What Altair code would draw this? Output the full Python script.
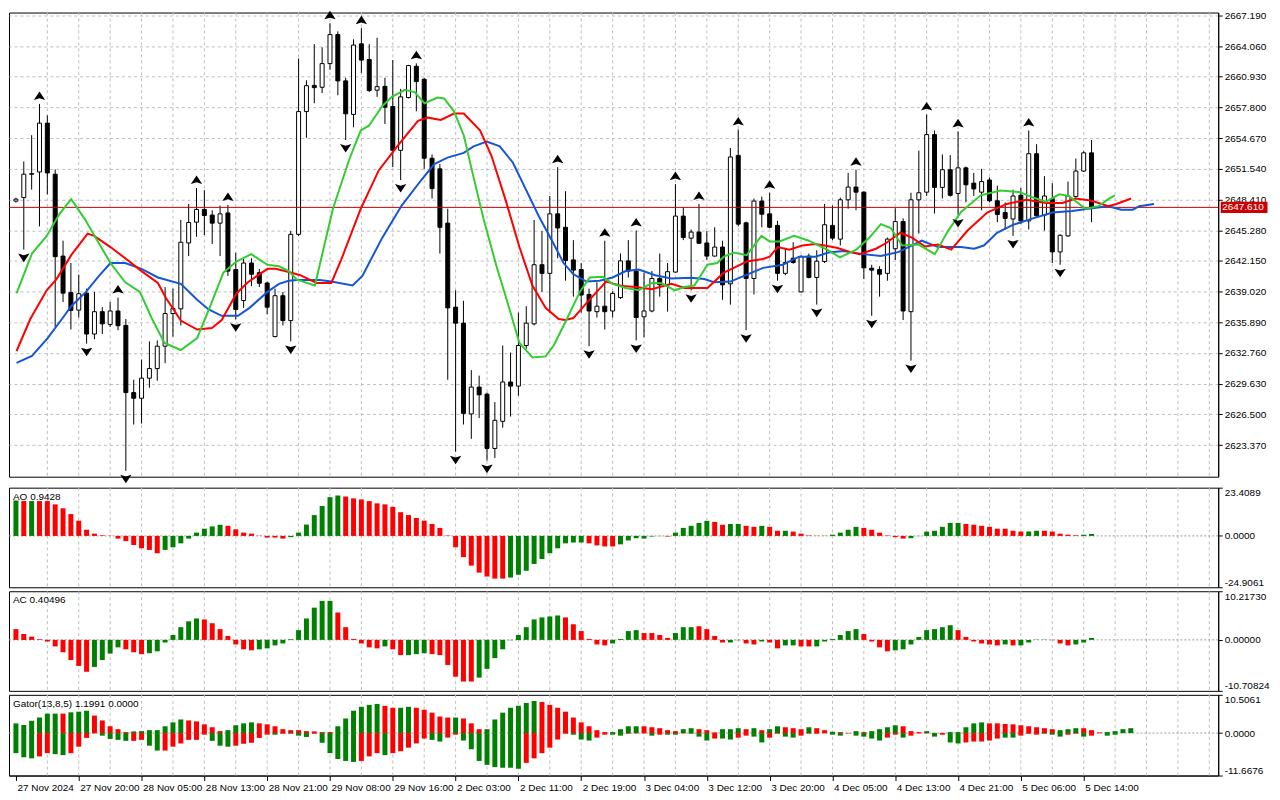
import json
import altair as alt
import pandas as pd

FONT = "Liberation Sans"
FS = 10
W = 1214
H_MAIN, H_AO, H_AC, H_GT = 466, 100, 100, 81
X_DOMAIN = [-0.25, 152.5]
PRICE_DOMAIN = [2620.14, 2667.48]
GRID = "#bdbdbd"
UPC = "#008000"
DNC = "#ff0000"

# ---------------- candles (hourly) ----------------
OPEN = [2648.25, 2648.61, 2650.98, 2651.22, 2656.20, 2650.99, 2642.64, 2638.93, 2637.13, 2638.86,
        2634.69, 2636.97, 2635.67, 2637.04, 2635.57, 2628.72, 2628.14, 2630.19, 2631.17, 2633.45,
        2636.78, 2637.26, 2643.98, 2646.10, 2647.40, 2646.82, 2646.00, 2647.04, 2641.27, 2638.11,
        2641.93, 2640.95, 2639.90, 2634.43, 2638.60, 2636.06, 2644.86, 2657.38, 2660.05, 2659.86,
        2662.27, 2665.23, 2660.51, 2657.09, 2664.29, 2662.69, 2659.56, 2659.95, 2657.90, 2653.43,
        2658.81, 2662.00, 2660.67, 2652.62, 2651.54, 2646.00, 2637.43, 2635.80, 2626.54, 2629.28,
        2628.56, 2623.02, 2625.79, 2629.80, 2629.38, 2633.52, 2635.73, 2641.76, 2640.88, 2646.95,
        2645.58, 2642.25, 2641.27, 2638.73, 2636.97, 2637.53, 2637.04, 2638.41, 2642.15, 2641.11,
        2636.45, 2637.04, 2640.36, 2639.71, 2641.01, 2646.72, 2644.47, 2645.09, 2643.98, 2642.64,
        2643.56, 2639.81, 2652.91, 2646.03, 2640.36, 2648.25, 2646.95, 2645.77, 2640.88, 2642.42,
        2638.99, 2642.64, 2640.46, 2642.09, 2645.77, 2644.37, 2648.38, 2649.68, 2649.16, 2641.40,
        2641.27, 2640.88, 2643.39, 2646.16, 2636.97, 2648.38, 2649.16, 2655.03, 2649.65, 2651.45,
        2649.03, 2651.64, 2650.08, 2649.16, 2650.40, 2648.28, 2647.08, 2646.42, 2648.84, 2646.23,
        2653.08, 2646.82, 2648.51, 2643.07, 2644.70, 2648.71, 2651.31, 2653.17]
HIGH = [2648.60, 2652.29, 2654.97, 2658.16, 2656.99, 2651.48, 2644.21, 2641.93, 2640.75, 2639.32,
        2638.99, 2637.43, 2637.95, 2638.41, 2636.22, 2630.03, 2632.08, 2633.94, 2634.04, 2639.48,
        2639.32, 2646.33, 2647.96, 2649.59, 2649.36, 2647.31, 2647.79, 2647.86, 2642.97, 2642.42,
        2642.42, 2641.34, 2640.04, 2639.32, 2638.99, 2645.19, 2662.79, 2660.57, 2664.26, 2663.93,
        2666.38, 2665.56, 2660.83, 2664.75, 2665.89, 2664.26, 2664.91, 2660.83, 2662.63, 2659.69,
        2662.14, 2662.30, 2660.83, 2653.01, 2652.03, 2647.47, 2639.15, 2638.08, 2631.01, 2630.45,
        2628.72, 2627.75, 2633.52, 2632.80, 2636.87, 2637.53, 2646.33, 2645.19, 2648.77, 2651.71,
        2649.26, 2644.27, 2641.93, 2639.32, 2639.97, 2644.21, 2639.06, 2642.90, 2644.27, 2645.25,
        2640.95, 2641.11, 2642.90, 2641.93, 2649.98, 2647.63, 2645.35, 2647.96, 2645.19, 2645.58,
        2644.21, 2653.66, 2655.55, 2646.16, 2648.51, 2648.71, 2649.10, 2646.23, 2643.49, 2644.05,
        2642.74, 2642.90, 2643.23, 2647.96, 2647.79, 2648.61, 2651.12, 2651.45, 2649.26, 2641.76,
        2641.60, 2644.53, 2647.53, 2646.49, 2649.10, 2653.40, 2657.09, 2655.45, 2653.01, 2652.94,
        2655.36, 2651.77, 2651.12, 2651.54, 2650.66, 2649.82, 2648.12, 2649.42, 2649.59, 2655.45,
        2654.05, 2650.79, 2650.08, 2644.86, 2650.24, 2652.59, 2653.34, 2654.48]
LOW = [2648.10, 2643.30, 2649.42, 2645.67, 2648.93, 2635.41, 2637.95, 2635.15, 2636.38, 2633.71,
       2634.17, 2634.69, 2635.41, 2635.08, 2620.74, 2625.46, 2625.56, 2629.21, 2629.93, 2631.72,
       2634.43, 2635.57, 2642.64, 2644.60, 2644.79, 2643.88, 2642.64, 2640.62, 2636.19, 2637.36,
       2639.58, 2639.48, 2636.71, 2634.36, 2635.57, 2633.94, 2644.70, 2654.71, 2658.23, 2659.27,
       2661.65, 2659.04, 2654.48, 2655.78, 2661.32, 2659.37, 2658.88, 2656.11, 2651.71, 2650.40,
       2658.72, 2657.41, 2651.54, 2648.51, 2642.90, 2630.03, 2622.69, 2625.46, 2624.00, 2626.12,
       2621.78, 2622.04, 2625.14, 2626.28, 2628.40, 2633.19, 2635.57, 2638.99, 2636.87, 2642.42,
       2640.13, 2638.50, 2636.87, 2633.45, 2636.38, 2635.15, 2636.38, 2638.27, 2640.46, 2634.04,
       2634.36, 2636.91, 2638.50, 2636.97, 2640.95, 2644.27, 2639.15, 2643.88, 2642.25, 2642.58,
       2638.18, 2637.69, 2645.67, 2635.08, 2638.73, 2645.58, 2645.51, 2640.13, 2640.69, 2641.86,
       2638.93, 2640.36, 2637.69, 2641.93, 2644.27, 2643.72, 2647.47, 2647.31, 2640.30, 2636.55,
       2638.50, 2640.13, 2642.25, 2636.12, 2631.98, 2644.93, 2648.77, 2646.98, 2648.51, 2648.71,
       2646.82, 2648.12, 2648.77, 2647.31, 2648.12, 2646.10, 2645.35, 2644.70, 2645.90, 2645.35,
       2646.56, 2645.25, 2641.93, 2641.76, 2644.60, 2648.61, 2651.22, 2646.10]
CLOSE = [2648.45, 2650.99, 2651.05, 2656.20, 2651.12, 2642.58, 2638.86, 2637.10, 2638.80, 2634.69,
         2636.97, 2635.73, 2637.04, 2635.54, 2628.72, 2628.14, 2630.19, 2631.17, 2633.45, 2636.78,
         2637.30, 2644.05, 2646.07, 2647.40, 2646.78, 2646.00, 2646.95, 2641.11, 2637.20, 2641.93,
         2640.79, 2639.87, 2637.43, 2638.60, 2636.06, 2644.86, 2657.38, 2660.02, 2659.82, 2662.27,
         2665.23, 2660.51, 2657.15, 2664.16, 2662.63, 2659.53, 2659.92, 2657.83, 2653.43, 2658.88,
         2662.07, 2660.44, 2652.62, 2649.52, 2645.58, 2637.36, 2635.80, 2626.60, 2629.28, 2628.49,
         2623.02, 2625.89, 2629.80, 2629.38, 2633.52, 2635.80, 2641.76, 2640.88, 2646.95, 2645.51,
         2642.19, 2641.21, 2638.67, 2637.04, 2637.53, 2636.97, 2638.83, 2642.15, 2641.11, 2636.38,
         2637.04, 2640.36, 2639.71, 2641.05, 2646.72, 2644.53, 2645.09, 2643.95, 2642.64, 2643.56,
         2639.71, 2652.75, 2645.90, 2640.36, 2648.25, 2646.91, 2645.58, 2640.88, 2641.99, 2641.99,
         2642.58, 2640.46, 2642.12, 2645.84, 2644.47, 2648.38, 2649.68, 2649.16, 2641.44, 2641.21,
         2640.79, 2644.37, 2646.16, 2637.04, 2648.38, 2649.10, 2655.03, 2649.65, 2651.45, 2648.84,
         2651.64, 2649.91, 2649.49, 2650.24, 2648.28, 2646.88, 2646.49, 2648.77, 2646.23, 2653.08,
         2646.75, 2648.77, 2643.07, 2644.76, 2648.77, 2651.31, 2653.17, 2647.61]

UP_FRACTALS = [3, 13, 23, 27, 40, 44, 51, 69, 75, 79, 84, 87, 92, 96, 107, 116, 120, 129]
DOWN_FRACTALS = [1, 9, 14, 28, 35, 42, 49, 56, 60, 73, 79, 86, 93, 97, 102, 109, 114, 120, 127, 133]

LAST_PRICE = 2647.61
LAST_PRICE_TEXT = "2647.610"

# ---------------- Alligator lines (bar index, price) ----------------
JAW_I = [0.08, 2.04, 4.04, 6.0, 7.04, 8.92, 10.58, 12.04, 13.92, 16.0,
         18.08, 21.0, 23.08, 24.54, 26.21, 28.29, 29.75, 32.04, 33.5, 34.75,
         35.79, 38.71, 40.17, 42.88, 44.13, 46.63, 49.13, 51.63, 53.29, 54.96,
         57.04, 58.29, 59.96, 61.63, 63.29, 64.96, 66.63, 68.5, 69.75, 71.0,
         72.67, 74.33, 76.0, 77.67, 79.33, 81.42, 83.5, 86.0, 87.67, 88.92,
         91.0, 93.5, 95.17, 97.67, 99.75, 101.83, 103.5, 105.38, 107.88, 110.17,
         112.46, 115.38, 117.46, 120.38, 122.04, 123.29, 124.96, 127.04, 129.54, 132.04,
         134.54, 137.04, 139.13, 140.79, 142.25, 143.08, 144.96]
JAW_P = [2631.75, 2632.47, 2634.27, 2636.38, 2637.53, 2638.99, 2640.62, 2641.93, 2641.93, 2641.34,
         2640.46, 2639.81, 2638.18, 2637.20, 2636.55, 2636.55, 2637.36, 2638.99, 2639.81, 2640.13,
         2640.20, 2640.20, 2640.04, 2639.64, 2640.62, 2644.47, 2647.79, 2650.40, 2652.03, 2652.68,
         2653.17, 2653.83, 2654.31, 2653.83, 2652.19, 2649.42, 2646.65, 2643.88, 2641.93, 2640.79,
         2640.04, 2640.13, 2640.46, 2641.11, 2641.27, 2640.69, 2640.36, 2640.43, 2640.30, 2639.97,
         2640.04, 2640.88, 2641.44, 2641.76, 2642.58, 2642.58, 2643.00, 2643.16, 2642.84, 2642.64,
         2643.07, 2644.21, 2643.56, 2643.56, 2643.39, 2643.72, 2645.02, 2645.84, 2646.49, 2647.08,
         2647.24, 2647.53, 2647.73, 2647.37, 2647.37, 2647.73, 2647.96]
TEETH_I = [0.08, 1.83, 3.92, 5.17, 7.04, 9.13, 9.96, 12.04, 13.92, 16.0,
           18.08, 19.13, 21.0, 23.08, 24.96, 26.21, 28.08, 29.54, 32.04, 33.08,
           34.75, 36.21, 38.29, 40.17, 41.42, 43.92, 46.21, 48.71, 51.21, 52.46,
           54.13, 55.79, 57.04, 59.13, 60.58, 62.46, 64.13, 65.79, 67.46, 69.13,
           69.96, 71.0, 72.67, 75.17, 77.25, 78.92, 81.0, 83.5, 85.17, 88.08,
           90.17, 91.83, 93.08, 95.17, 96.0, 97.04, 98.5, 100.17, 101.83, 103.5,
           104.54, 106.21, 107.46, 109.54, 110.79, 112.67, 114.13, 115.79, 117.46, 119.13,
           121.21, 123.71, 126.21, 128.71, 131.21, 133.29, 134.96, 137.04, 139.13, 140.17,
           142.04]
TEETH_P = [2632.96, 2636.22, 2639.15, 2640.30, 2642.74, 2644.93, 2644.70, 2643.56, 2642.42, 2641.11,
           2639.90, 2638.34, 2636.06, 2635.15, 2635.31, 2636.12, 2638.83, 2639.97, 2641.34, 2641.34,
           2641.01, 2640.69, 2639.90, 2639.90, 2642.25, 2647.47, 2651.38, 2653.99, 2656.43, 2656.76,
           2656.53, 2657.18, 2657.18, 2655.45, 2652.85, 2648.12, 2643.56, 2639.64, 2637.36, 2636.22,
           2636.12, 2636.32, 2637.85, 2640.04, 2639.58, 2639.48, 2639.25, 2639.81, 2639.38, 2639.38,
           2640.95, 2641.60, 2642.09, 2642.35, 2642.58, 2643.56, 2643.30, 2643.72, 2643.88, 2643.65,
           2643.49, 2643.07, 2642.84, 2643.39, 2643.95, 2645.02, 2644.53, 2643.62, 2643.82, 2643.30,
           2645.25, 2647.08, 2647.96, 2648.38, 2648.05, 2648.05, 2648.51, 2648.28, 2647.73, 2647.96,
           2648.51]
LIPS_I = [0.08, 2.04, 3.92, 5.58, 7.04, 8.71, 10.38, 12.04, 13.92, 15.79,
          17.25, 18.92, 21.0, 23.08, 24.75, 26.42, 28.08, 29.96, 32.04, 33.5,
          34.75, 35.79, 38.08, 39.13, 40.38, 42.46, 43.92, 44.96, 46.63, 47.88,
          49.54, 50.79, 52.04, 53.71, 54.54, 55.79, 57.04, 58.08, 59.54, 61.21,
          62.88, 64.13, 65.79, 67.46, 68.5, 70.17, 71.83, 73.08, 74.75, 76.0,
          77.67, 79.33, 81.0, 82.25, 83.92, 85.17, 86.42, 88.08, 89.33, 90.17,
          91.42, 93.08, 94.96, 96.0, 97.25, 99.13, 101.0, 103.5, 104.96, 107.04,
          108.71, 110.17, 111.42, 112.88, 114.96, 117.04, 118.71, 120.38, 122.88, 125.38,
          127.88, 129.54, 131.21, 132.88, 134.13, 136.21, 137.88, 139.13, 139.96]
LIPS_P = [2638.83, 2642.90, 2644.70, 2646.98, 2648.45, 2646.49, 2644.21, 2641.93, 2639.97, 2638.99,
          2636.38, 2633.78, 2633.06, 2634.27, 2637.53, 2640.95, 2642.09, 2642.84, 2641.76, 2641.60,
          2641.11, 2640.23, 2639.64, 2643.23, 2647.47, 2652.52, 2655.45, 2655.94, 2657.90, 2658.88,
          2659.60, 2659.37, 2658.23, 2658.81, 2658.72, 2657.41, 2654.97, 2651.38, 2646.49, 2641.60,
          2637.20, 2633.78, 2632.31, 2632.41, 2633.52, 2636.22, 2638.99, 2640.46, 2640.52, 2639.81,
          2639.38, 2639.15, 2639.90, 2639.87, 2639.15, 2639.48, 2639.64, 2641.76, 2641.93, 2642.58,
          2643.00, 2642.74, 2644.70, 2644.14, 2644.14, 2644.70, 2644.21, 2643.23, 2642.51, 2643.30,
          2644.53, 2645.90, 2645.51, 2643.72, 2643.82, 2642.84, 2645.19, 2647.14, 2648.84, 2649.33,
          2649.16, 2648.61, 2648.19, 2648.94, 2648.77, 2647.47, 2647.73, 2648.45, 2648.84]

# ---------------- Awesome Oscillator ----------------
AO_LABEL = "AO 0.9428"
AO_RANGE = [-24.9061, 23.4089]
AO = [17.2, 16.9, 16.9, 16.9, 16.9, 15.3, 13.4, 10.6, 7.4, 3.0,
      1.1, 0.3, 0.1, -1.3, -2.5, -4.4, -6.0, -6.8, -8.4, -6.8,
      -5.5, -3.6, -1.3, 1.6, 3.5, 4.6, 5.4, 4.9, 3.2, 1.6,
      1.1, 0.1, -0.8, -0.8, -1.3, -0.6, 1.6, 5.5, 10.1, 14.5,
      18.8, 19.6, 19.1, 18.2, 17.7, 16.9, 15.8, 15.3, 14.1, 11.5,
      10.1, 8.7, 7.4, 5.8, 3.9, 0.2, -5.5, -10.3, -14.4, -17.8,
      -19.7, -20.7, -20.7, -20.2, -18.8, -16.9, -13.6, -11.2, -8.4, -6.0,
      -3.6, -3.2, -3.2, -3.6, -4.6, -5.1, -5.1, -4.1, -2.2, -1.1,
      -1.3, -0.3, -0.1, -0.3, 1.6, 3.9, 4.9, 6.3, 7.3, 6.8,
      5.4, 5.8, 5.8, 4.9, 4.4, 4.9, 4.4, 2.5, 2.5, 2.1,
      1.1, 0.2, 0.1, 0.1, 0.6, 1.6, 3.0, 4.4, 3.9, 3.0,
      1.6, 0.2, -0.6, -1.3, -1.1, -0.1, 2.1, 2.5, 4.4, 6.3,
      6.3, 5.8, 5.4, 4.9, 4.4, 3.5, 3.5, 2.5, 2.1, 2.1,
      2.5, 2.5, 2.1, 1.1, 0.6, 0.3, 0.6, 0.94]
AO_COL = list("grgrrrrrrr" "rrrrrrrrrg" "gggggggrrr" "rrrrrggggg" "ggrrrrrrrr"
              "rrrrrrrrrr" "rrrggggggg" "gggrrrrggg" "gggrgggggr" "rggrrgrrgr"
              "rrrgggggrr" "rrrrgggggg" "grrrrrrrrg" "grrrrrgg")

# ---------------- Accelerator Oscillator ----------------
AC_LABEL = "AC 0.40496"
AC_RANGE = [-10.70824, 10.2173]
AC = [2.26, 1.23, 0.68, 0.14, -0.34, -1.37, -2.6, -4.24, -5.47, -6.7,
      -5.68, -4.24, -2.87, -1.57, -1.98, -2.6, -3.0, -2.8, -2.4, -0.55,
      1.03, 2.67, 3.9, 4.5, 4.3, 3.5, 2.26, 0.82, -0.96, -1.98,
      -2.19, -1.98, -1.78, -1.16, -0.75, 0.14, 2.05, 4.5, 6.77, 8.2,
      8.2, 5.75, 2.67, 0.2, -0.75, -1.57, -1.78, -1.37, -1.98, -3.2,
      -3.2, -3.0, -2.8, -3.0, -3.2, -5.27, -7.73, -8.75, -8.75, -7.93,
      -6.09, -3.83, -1.98, -0.07, 1.03, 2.67, 4.3, 4.72, 4.92, 5.13,
      4.72, 3.28, 1.85, 0.2, -0.96, -1.16, -0.75, 0.2, 1.85, 2.05,
      1.44, 1.44, 1.03, 0.41, 1.44, 2.67, 2.67, 2.87, 2.26, 0.82,
      -0.55, -0.55, -0.07, -0.75, -0.96, -0.34, -0.55, -1.78, -1.16, -1.16,
      -1.37, -1.37, -1.37, -0.34, 0.2, 1.03, 1.85, 2.26, 1.23, -0.34,
      -1.57, -2.4, -2.19, -1.98, -0.96, 0.62, 2.05, 2.26, 2.67, 3.08,
      2.05, 0.62, -0.34, -0.75, -0.96, -1.16, -0.96, -1.16, -1.16, -0.55,
      0.05, 0.05, -0.05, -0.75, -1.16, -0.96, -0.55, 0.40]
AC_COL = list("rrrrrrrrrr" "ggggrrrggg" "ggggrrrrrr" "rggggggggg" "grrrrrrgrr"
              "gggrrrrrrg" "gggggggggg" "rrrrrrgggg" "rrrrgggrrr" "rggrrgrrgg"
              "rrggggggrr" "rrgggggggg" "rrrrrrgrgg" "ggrrrggg")

# ---------------- Gator Oscillator ----------------
GT_LABEL = "Gator(13,8,5) 1.1991 0.0000"
GT_RANGE = [-11.6676, 10.5061]
GT_UP = [2.67, 2.23, 3.38, 4.27, 5.34, 5.34, 5.34, 5.70, 5.88, 6.14,
         4.81, 3.47, 1.87, 1.07, 0.27, 0.45, 0.53, 0.80, 0.80, 1.87,
         2.94, 3.74, 3.47, 3.21, 2.40, 1.60, 0.53, 0.80, 2.14, 2.67,
         2.94, 2.67, 2.40, 1.87, 1.07, 0.80, 0.80, 0.53, 0.45, 0.27,
         0.27, 1.87, 4.01, 6.14, 7.21, 7.75, 8.01, 7.48, 6.95, 6.95,
         7.21, 6.95, 6.41, 5.61, 4.54, 4.27, 4.27, 4.01, 2.67, 1.07,
         1.07, 3.74, 5.61, 6.95, 7.48, 8.28, 8.82, 8.55, 7.75, 6.95,
         5.88, 4.27, 2.94, 1.87, 0.80, 0.27, 0.27, 1.07, 1.87, 1.87,
         1.87, 1.60, 1.34, 0.80, 0.53, 1.07, 1.34, 1.07, 0.80, 0.18,
         1.07, 1.07, 1.34, 1.07, 1.34, 0.80, 1.07, 1.87, 1.60, 1.34,
         1.07, 1.60, 1.34, 0.80, 0.36, 0.27, 0.05, 0.53, 0.27, 0.53,
         1.07, 1.60, 2.14, 1.87, 0.53, 0.27, 0.53, 0.05, 0.05, 0.27,
         0.27, 1.60, 2.67, 2.94, 2.67, 2.67, 2.49, 2.40, 2.14, 1.87,
         1.60, 1.34, 1.07, 0.80, 1.07, 1.34, 1.34, 0.80, 0.18, 0.27,
         0.53, 1.07, 1.34]
GT_UP_COL = list("ggggggrggg" "rrrrrggggg" "ggrrrrrggg" "grrrrrrrrr" "rggggggrrg"
                 "grrrrrgrrr" "gggggggrrr" "rrrrrrgggg" "rrrrrggrrr" "gggrgrggrr"
                 "rgrrgrrgrg" "gggrrrgrrg" "ggggrrrrrr" "rrrgggrrrg" "ggg")
GT_LO = [-5.52, -6.68, -6.95, -6.41, -5.52, -5.79, -6.06, -5.52, -3.74, -1.34,
         -0.09, -0.71, -1.60, -1.87, -2.14, -2.14, -1.87, -3.47, -4.81, -4.81,
         -3.74, -2.85, -1.87, -1.87, -0.45, -2.14, -3.47, -3.74, -3.47, -2.94,
         -2.67, -1.34, -0.45, -0.45, -0.18, -0.18, -0.71, -1.07, -0.18, -2.67,
         -5.52, -7.12, -7.66, -7.93, -7.66, -6.41, -5.52, -6.06, -5.52, -4.99,
         -4.01, -2.85, -1.51, -1.87, -2.32, -1.25, -0.45, -2.05, -4.45, -7.66,
         -8.73, -9.35, -9.53, -9.53, -9.80, -8.19, -6.95, -5.52, -4.01, -1.78,
         -0.18, -0.45, -1.78, -2.05, -1.25, -0.45, -0.45, -0.71, -0.18, -0.10,
         -0.10, -0.71, -0.45, -0.45, -0.45, -0.10, -0.18, -0.98, -2.05, -1.51,
         -1.51, -1.78, -1.25, -0.71, -0.98, -2.58, -1.25, -0.18, -0.98, -1.25,
         -0.71, -0.18, -0.18, -0.05, -0.45, -0.71, -0.10, -0.71, -0.98, -1.51,
         -2.05, -1.25, -0.45, -1.25, -0.71, -0.10, -0.10, -0.98, -0.45, -2.58,
         -2.85, -2.58, -2.32, -2.32, -2.05, -1.51, -1.25, -1.25, -0.71, -0.18,
         -0.45, -0.18, -0.45, -0.98, -0.45, -0.18, -0.98, -0.71, -0.05, -0.71,
         -0.45]
GT_LO_COL = list("gggrrggrrr" "rggggrrggr" "rrrrrgggrr" "rrrgrgggrg" "ggggrrrgrr"
                 "rrrggrrggg" "gggggrrrrr" "rgggrrggrr" "rgrggrgggr" "ggrrggrrgg"
                 "rrrrggrggg" "grrgrrrgrg" "grrrrrggrr" "rgggrrgrrg" "g")

# ---------------- time axis ----------------
TIME_IDX = list(range(0, 137, 8))
TIME_LABELS = ["27 Nov 2024", "27 Nov 20:00", "28 Nov 05:00", "28 Nov 13:00", "28 Nov 21:00",
               "29 Nov 08:00", "29 Nov 16:00", "2 Dec 03:00", "2 Dec 11:00", "2 Dec 19:00",
               "3 Dec 04:00", "3 Dec 12:00", "3 Dec 20:00", "4 Dec 05:00", "4 Dec 13:00",
               "4 Dec 21:00", "5 Dec 06:00", "5 Dec 14:00"]
PRICE_TICKS = [2623.37, 2626.50, 2629.63, 2632.76, 2635.89, 2639.02, 2642.15, 2645.28, 2648.41,
               2651.54, 2654.67, 2657.80, 2660.93, 2664.06, 2667.19]
GRID_IDX = list(range(4, 153, 4))

UP_SHAPE = "M0,-0.8L1,0.7L0,0.4L-1,0.7Z"
DN_SHAPE = "M0,0.8L1,-0.7L0,-0.4L-1,-0.7Z"
BOX_SHAPE = "M-1,-0.24L1,-0.24L1,0.24L-1,0.24Z"

xs = alt.Scale(domain=X_DOMAIN, nice=False, zero=False)
ps = alt.Scale(domain=PRICE_DOMAIN, nice=False, zero=False)
hist_colors = alt.Scale(domain=["g", "r"], range=[UPC, DNC])

price_axis = alt.Axis(orient="right", values=PRICE_TICKS, format=".3f", grid=True, gridDash=[3, 3],
                      gridColor=GRID, tickSize=4, labelPadding=2, title=None, labelFlush=False)


def vgrid(xaxis=None):
    return alt.Chart(pd.DataFrame({"g": GRID_IDX})).mark_rule(
        color=GRID, strokeDash=[3, 3], strokeWidth=1).encode(x=alt.X("g:Q", scale=xs, axis=xaxis))


def PY(field):
    return alt.Y(field, scale=ps, axis=price_axis)


NOX = alt.X("i:Q", scale=xs, axis=None)

# ---------------- main panel ----------------
candles = pd.DataFrame({"i": list(range(len(OPEN))), "o": OPEN, "h": HIGH, "l": LOW, "c": CLOSE})

wicks = alt.Chart(candles).mark_rule(color="black", strokeWidth=1).encode(
    x=NOX, y=PY("l:Q"), y2="h:Q")
bodies = alt.Chart(candles).mark_bar(size=4, stroke="black", strokeWidth=1).encode(
    x=NOX, y=PY("o:Q"), y2="c:Q",
    fill=alt.condition("datum.c >= datum.o", alt.value("white"), alt.value("black")))


def line_layer(ix, px, color):
    return alt.Chart(pd.DataFrame({"i": ix, "p": px})).mark_line(color=color, strokeWidth=2).encode(
        x=NOX, y=PY("p:Q"))


jaw = line_layer(JAW_I, JAW_P, "#1556d6")
teeth = line_layer(TEETH_I, TEETH_P, "#ff0000")
lips = line_layer(LIPS_I, LIPS_P, "#33cc33")

up_fr = alt.Chart(pd.DataFrame({"i": UP_FRACTALS, "p": [HIGH[k] for k in UP_FRACTALS]})).mark_point(
    shape=UP_SHAPE, size=130, filled=True, color="black", opacity=1, yOffset=-8).encode(
    x=NOX, y=PY("p:Q"))
dn_fr = alt.Chart(pd.DataFrame({"i": DOWN_FRACTALS, "p": [LOW[k] for k in DOWN_FRACTALS]})).mark_point(
    shape=DN_SHAPE, size=130, filled=True, color="black", opacity=1, yOffset=8).encode(
    x=NOX, y=PY("p:Q"))

last_df = pd.DataFrame({"p": [LAST_PRICE], "t": [LAST_PRICE_TEXT]})
last_line = alt.Chart(last_df).mark_rule(color="#c00000", strokeWidth=1).encode(y=PY("p:Q"))
last_box = alt.Chart(last_df).mark_point(shape=BOX_SHAPE, size=2209, filled=True, color="#cc0000",
                                         opacity=1).encode(x=alt.value(W + 26), y=PY("p:Q"))
last_txt = alt.Chart(last_df).mark_text(align="left", baseline="middle", color="white", font=FONT,
                                        fontSize=FS).encode(x=alt.value(W + 4), y=PY("p:Q"), text="t:N")

main = alt.layer(vgrid(), wicks, bodies, last_line, jaw, teeth, lips, up_fr, dn_fr, last_box,
                 last_txt).properties(width=W, height=H_MAIN)


# ---------------- oscillator panels ----------------
def panel(series, rng, fmt, label, height, bottom=False):
    ys = alt.Scale(domain=rng, nice=False, zero=False)
    lab = ("datum.value < 0 ? '-' + format(-datum.value, '%s') : format(datum.value, '%s')"
           % (fmt, fmt))
    yaxis = alt.Axis(orient="right", values=[rng[0], 0, rng[1]], labelExpr=lab, grid=False, tickSize=4,
                     labelPadding=2, labelFlush=True, title=None)
    if bottom:
        xaxis = alt.Axis(values=TIME_IDX, labelExpr=json.dumps(TIME_LABELS) + "[round(datum.value / 8)]",
                         tickSize=5, labelAlign="left", labelPadding=2, labelOffset=1, grid=False,
                         title=None, labelOverlap=False, labelFlush=False, labelBound=False)
    else:
        xaxis = None
    layers = [vgrid(xaxis),
              alt.Chart(pd.DataFrame({"z": [0.0]})).mark_rule(color="#9a9a9a", strokeDash=[2, 2]).encode(
                  y=alt.Y("z:Q", scale=ys, axis=yaxis))]
    for vals, cols in series:
        df = pd.DataFrame({"i": list(range(len(vals))), "v": vals, "c": cols})
        layers.append(alt.Chart(df).mark_bar(size=5).encode(
            x=alt.X("i:Q", scale=xs, axis=xaxis),
            y=alt.Y("v:Q", scale=ys, axis=yaxis),
            y2=alt.datum(0),
            color=alt.Color("c:N", scale=hist_colors, legend=None)))
    layers.append(alt.Chart(pd.DataFrame({"t": [label]})).mark_text(
        align="left", baseline="middle", font=FONT, fontSize=FS, color="black").encode(
        x=alt.value(4), y=alt.value(9), text="t:N"))
    return alt.layer(*layers).properties(width=W, height=height)


ao = panel([(AO, AO_COL)], AO_RANGE, ".4f", AO_LABEL, H_AO)
ac = panel([(AC, AC_COL)], AC_RANGE, ".5f", AC_LABEL, H_AC)
gt = panel([(GT_UP, GT_UP_COL), (GT_LO, GT_LO_COL)], GT_RANGE, ".4f", GT_LABEL, H_GT, bottom=True)

chart = alt.vconcat(main, ao, ac, gt, spacing=2).configure_view(
    stroke="black", strokeWidth=1).configure_axis(
    labelFont=FONT, labelFontSize=FS, labelColor="black", tickColor="black", domainColor="black"
).properties(padding={"left": 0, "top": 0, "right": 2, "bottom": 0}, background="white")

chart.save("out.html", embed_options={"renderer": "svg", "actions": False})
